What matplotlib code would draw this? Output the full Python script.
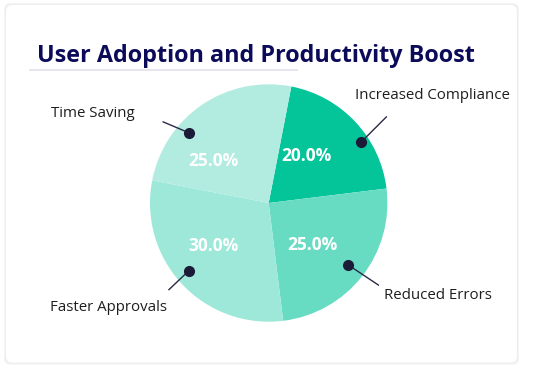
import matplotlib.pyplot as plt
import numpy as np
from matplotlib.patches import FancyBboxPatch

# data
labels = ['Increased Compliance', 'Reduced Errors', 'Faster Approvals', 'Time Saving']
values = [20, 25, 30, 25]
colors = ['#04c49a', '#68dcc3', '#9de8d8', '#b2ebe0']

title = 'User Adoption and Productivity Boost'

W, H = 538, 371
R = 118.7                 # pie radius in px
cx, cy = 268.7, 203.0     # pie centre in px (y from top)

plt.rcParams['font.family'] = ['Open Sans', 'DejaVu Sans']

fig = plt.figure(figsize=(W / 100, H / 100), dpi=100)
fig.patch.set_facecolor('white')

# card with soft shadow
for i, a in enumerate([0.03, 0.03, 0.04]):
    sh = FancyBboxPatch((6 - i, 8.3 - i), 511 + 2 * i, 357.7 + 2 * i,
                        boxstyle='round,pad=0,rounding_size=6',
                        transform=None, facecolor='#000000', alpha=a,
                        edgecolor='none', zorder=-3)
    fig.patches.append(sh)
card = FancyBboxPatch((6, 8.3), 511, 357.7, boxstyle='round,pad=0,rounding_size=6',
                      transform=None, facecolor='white', edgecolor='none', zorder=-2)
fig.patches.append(card)

ax = fig.add_axes([0, 0, 1, 1])
ax.patch.set_alpha(0)

wedges, texts, autotexts = ax.pie(values, colors=colors, startangle=79, counterclock=False,
                                  radius=1, autopct='%1.1f%%', pctdistance=0.56,
                                  wedgeprops=dict(linewidth=0),
                                  textprops=dict(color='white', fontsize=12.5, fontweight='bold'))

ax.set_xlim(-cx / R, (W - cx) / R)
ax.set_ylim(-(H - cy) / R, cy / R)
ax.set_aspect('auto')
ax.axis('off')

# percentage label placement: angle nudge (deg), radius
pct_layout = [(8.6, 0.51), (-6.3, 0.51), (-5, 0.595), (18.8, 0.585)]
for w, t, (nud, rr) in zip(wedges, autotexts, pct_layout):
    a = np.deg2rad((w.theta1 + w.theta2) / 2 + nud)
    t.set_position((rr * np.cos(a), rr * np.sin(a)))

# leader layout: angle nudge (deg), dot radius, line end (px), text offset (px), ha
layout = [
    (-9.6, 0.935, (25, 25), (-6, 46), 'left'),
    (0.1, 0.851, (30, -20), (36, -30), 'left'),
    (-2.7, 0.881, (-20, -19), (-80, -37), 'center'),
    (14.6, 0.893, (-26, 11), (-55, 19), 'right'),
]
for w, lab, (nud, rr, lend, toff, ha) in zip(wedges, labels, layout):
    mid = np.deg2rad((w.theta1 + w.theta2) / 2 + nud)
    x, y = rr * np.cos(mid), rr * np.sin(mid)
    ax.plot([x, x + lend[0] / R], [y, y + lend[1] / R], color='#2a2a48', lw=1, zorder=5)
    ax.plot(x, y, 'o', color='#1b1b38', ms=7, zorder=6)
    ax.text(x + toff[0] / R, y + toff[1] / R, lab, ha=ha, va='center',
            fontsize=10.8, color='#1e1e1e')

# title + underline
fig.text(256 / W, 1 - 56 / H, title, ha='center', va='center', fontsize=16.8,
         fontweight='bold', color='#0b0b5a')
ax.plot([(30 - cx) / R, (297 - cx) / R], [(cy - 70.3) / R] * 2, color='#e4e4ef', lw=1.3)

fig.savefig('out.png', dpi=100, facecolor=fig.get_facecolor())
